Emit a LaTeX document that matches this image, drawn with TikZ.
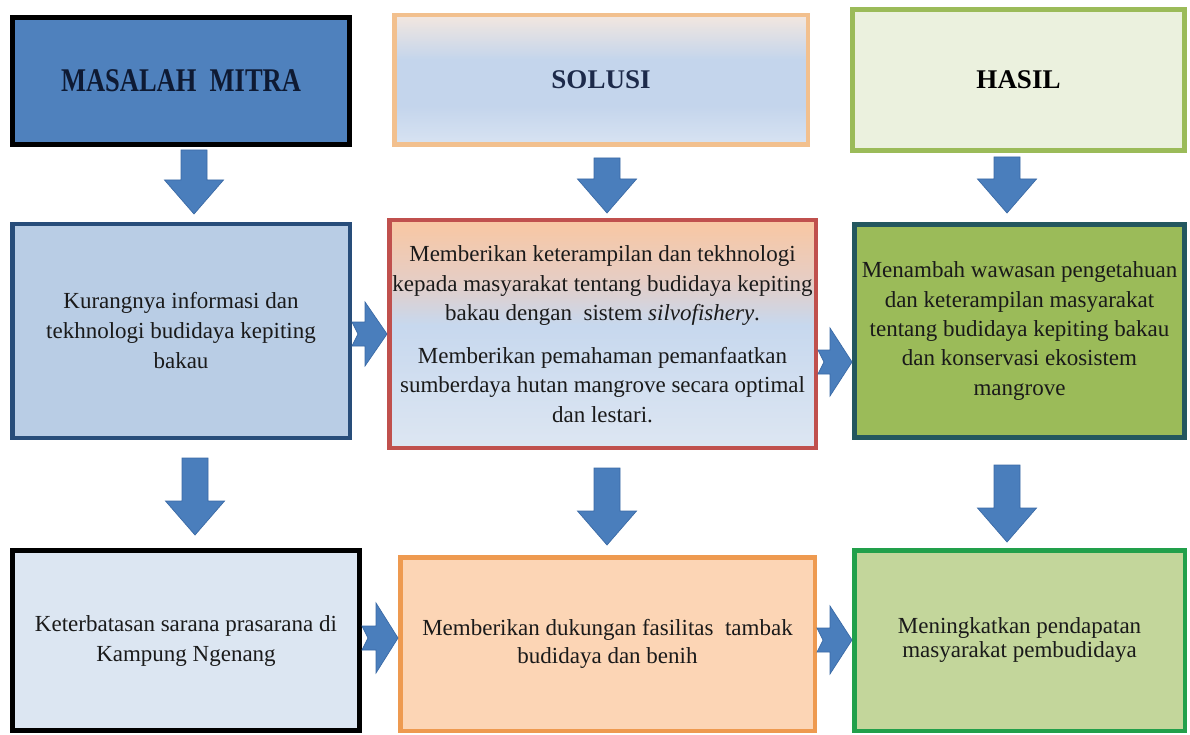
\documentclass[tikz,border=0pt]{standalone}
\usepackage{fontspec}
\usepackage{graphicx}
\setmainfont{Liberation Serif}
\usetikzlibrary{calc}
\definecolor{arrblue}{HTML}{4A7EBC}
\definecolor{arrdark}{HTML}{3A6AA6}
\definecolor{hAfill}{HTML}{4F81BD}
\definecolor{hAtext}{HTML}{0E1A33}
\definecolor{hBdraw}{HTML}{F2C08E}
\definecolor{hBtop}{HTML}{F3E7DF}
\definecolor{hBmid}{HTML}{C4D5EC}
\definecolor{hBbot}{HTML}{D8E3F2}
\definecolor{hBtext}{HTML}{1D2A4A}
\definecolor{hCdraw}{HTML}{9BBB59}
\definecolor{hCfill}{HTML}{EBF1DE}
\definecolor{kAdraw}{HTML}{284D7A}
\definecolor{kAfill}{HTML}{B9CDE5}
\definecolor{sAdraw}{HTML}{C0504D}
\definecolor{sAtop}{HTML}{F9C7A2}
\definecolor{sAmid}{HTML}{E6CDC4}
\definecolor{sAblue}{HTML}{C7D8EE}
\definecolor{sAbot}{HTML}{DDE6F2}
\definecolor{mAdraw}{HTML}{23575F}
\definecolor{mAfill}{HTML}{9BBB59}
\definecolor{kBfill}{HTML}{DCE6F2}
\definecolor{sBdraw}{HTML}{EE9A50}
\definecolor{sBfill}{HTML}{FCD5B5}
\definecolor{mBdraw}{HTML}{22A04B}
\definecolor{mBfill}{HTML}{C3D69B}
\definecolor{bodytext}{HTML}{1A1A1A}
\pgfdeclareverticalshading{solshade}{100bp}{color(0bp)=(sAbot); color(25bp)=(sAbot); color(52bp)=(sAblue); color(62bp)=(sAmid); color(75bp)=(sAtop); color(100bp)=(sAtop)}
\pgfdeclareverticalshading{headshade}{100bp}{color(0bp)=(hBbot); color(25bp)=(hBbot); color(40bp)=(hBmid); color(58bp)=(hBmid); color(75bp)=(hBtop); color(100bp)=(hBtop)}
\newcommand\darrow[5]{%
  \path[arr] let \p1=(#1.south), \p2=(#2.north) in
    (#3pt-13pt, \y1-#4pt) -- (#3pt+13pt, \y1-#4pt) -- (#3pt+13pt, \y2+#5pt+34pt)
    -- (#3pt+29.5pt, \y2+#5pt+34pt) -- (#3pt, \y2+#5pt) -- (#3pt-29.5pt, \y2+#5pt+34pt)
    -- (#3pt-13pt, \y2+#5pt+34pt) -- cycle;}
\newcommand\rarrow[4]{%
  \path[arr] let \p1=(#1.east), \p2=(#2.west) in
    (\x1, -#3pt+12pt) -- (\x2-22pt, -#3pt+12pt) -- (\x2-22pt, -#3pt+#4pt)
    -- (\x2, -#3pt) -- (\x2-22pt, -#3pt-#4pt) -- (\x2-22pt, -#3pt-12pt)
    -- (\x1, -#3pt-12pt) -- (\x1+6pt, -#3pt) -- cycle;}
\begin{document}
\begin{tikzpicture}[x=1pt,y=-1pt,
  box/.style={rectangle, inner sep=0pt, align=center, text=bodytext,
    font=\fontsize{23}{30}\selectfont},
  arr/.style={fill=arrblue, draw=arrdark, line width=0.7pt, line join=miter}]
\fill[white] (0,0) rectangle (1190,735);
\useasboundingbox (0,0) rectangle (1190,735);
% header row
\node[box, draw=black, line width=5pt, fill=hAfill, minimum width=337pt, minimum height=127pt, text=hAtext]
  (h1) at (181,81) {\fontsize{26.5}{30}\selectfont\bfseries\scalebox{1}[1.25]{MASALAH\ \ MITRA}};
\node[box, draw=hBdraw, line width=4.5pt, shading=headshade,
  minimum width=413.5pt, minimum height=129.5pt, text=hBtext]
  (h2) at (601,80) {\fontsize{27}{30}\selectfont\bfseries SOLUSI};
\node[box, draw=hCdraw, line width=5pt, fill=hCfill, minimum width=332pt, minimum height=141pt, text=black]
  (h3) at (1018.5,80) {\fontsize{27}{30}\selectfont\bfseries HASIL};
% middle row
\node[box, draw=kAdraw, line width=4.5pt, fill=kAfill, minimum width=337.5pt, minimum height=213.5pt]
  (k1) at (181,331) {Kurangnya informasi dan\\tekhnologi budidaya kepiting\\bakau};
\node[box, draw=sAdraw, line width=4.5pt, shading=solshade, minimum width=426.5pt, minimum height=227.5pt,
  font=\fontsize{23}{29.5}\selectfont]
  (s1) at (602.5,334) {Memberikan keterampilan dan tekhnologi\\kepada masyarakat tentang budidaya kepiting\\bakau dengan\ \ sistem \textit{silvofishery}.\\[13pt]Memberikan pemahaman pemanfaatkan\\sumberdaya hutan mangrove secara optimal\\dan lestari.};
\node[box, draw=mAdraw, line width=5pt, fill=mAfill, minimum width=330pt, minimum height=213pt,
  font=\fontsize{23}{29.5}\selectfont]
  (m1) at (1019.5,331) {Menambah wawasan pengetahuan\\dan keterampilan masyarakat\\tentang budidaya kepiting bakau\\dan konservasi ekosistem\\mangrove};
% bottom row
\node[box, draw=black, line width=5pt, fill=kBfill, minimum width=347pt, minimum height=180pt]
  (k2) at (186,640.5) {Keterbatasan sarana prasarana di\\Kampung Ngenang};
\node[box, draw=sBdraw, line width=4.5pt, fill=sBfill, minimum width=414.5pt, minimum height=173.5pt,
  font=\fontsize{23}{28}\selectfont]
  (s2) at (607.5,644) {Memberikan dukungan fasilitas\ \ tambak\\budidaya dan benih};
\node[box, draw=mBdraw, line width=4.5pt, fill=mBfill, minimum width=330.5pt, minimum height=180.5pt,
  font=\fontsize{23}{27}\selectfont]
  (m2) at (1019.5,640.5) {\raisebox{-4pt}{\begin{tabular}{@{}c@{}}Meningkatkan pendapatan\\[-3pt]masyarakat pembudidaya\end{tabular}}};
% down arrows
\darrow{h1}{k1}{194}{3}{8}
\darrow{h2}{s1}{607}{11}{5}
\darrow{h3}{m1}{1007}{4}{9}
\darrow{k1}{k2}{195}{18}{13}
\darrow{s1}{s2}{607}{18}{10}
\darrow{m1}{m2}{1007}{25}{6}
% right arrows
\rarrow{k1}{s1}{334}{32}
\rarrow{s1}{m1}{362}{34}
\rarrow{k2}{s2}{638}{35}
\rarrow{s2}{m2}{640}{34}
\end{tikzpicture}
\end{document}
